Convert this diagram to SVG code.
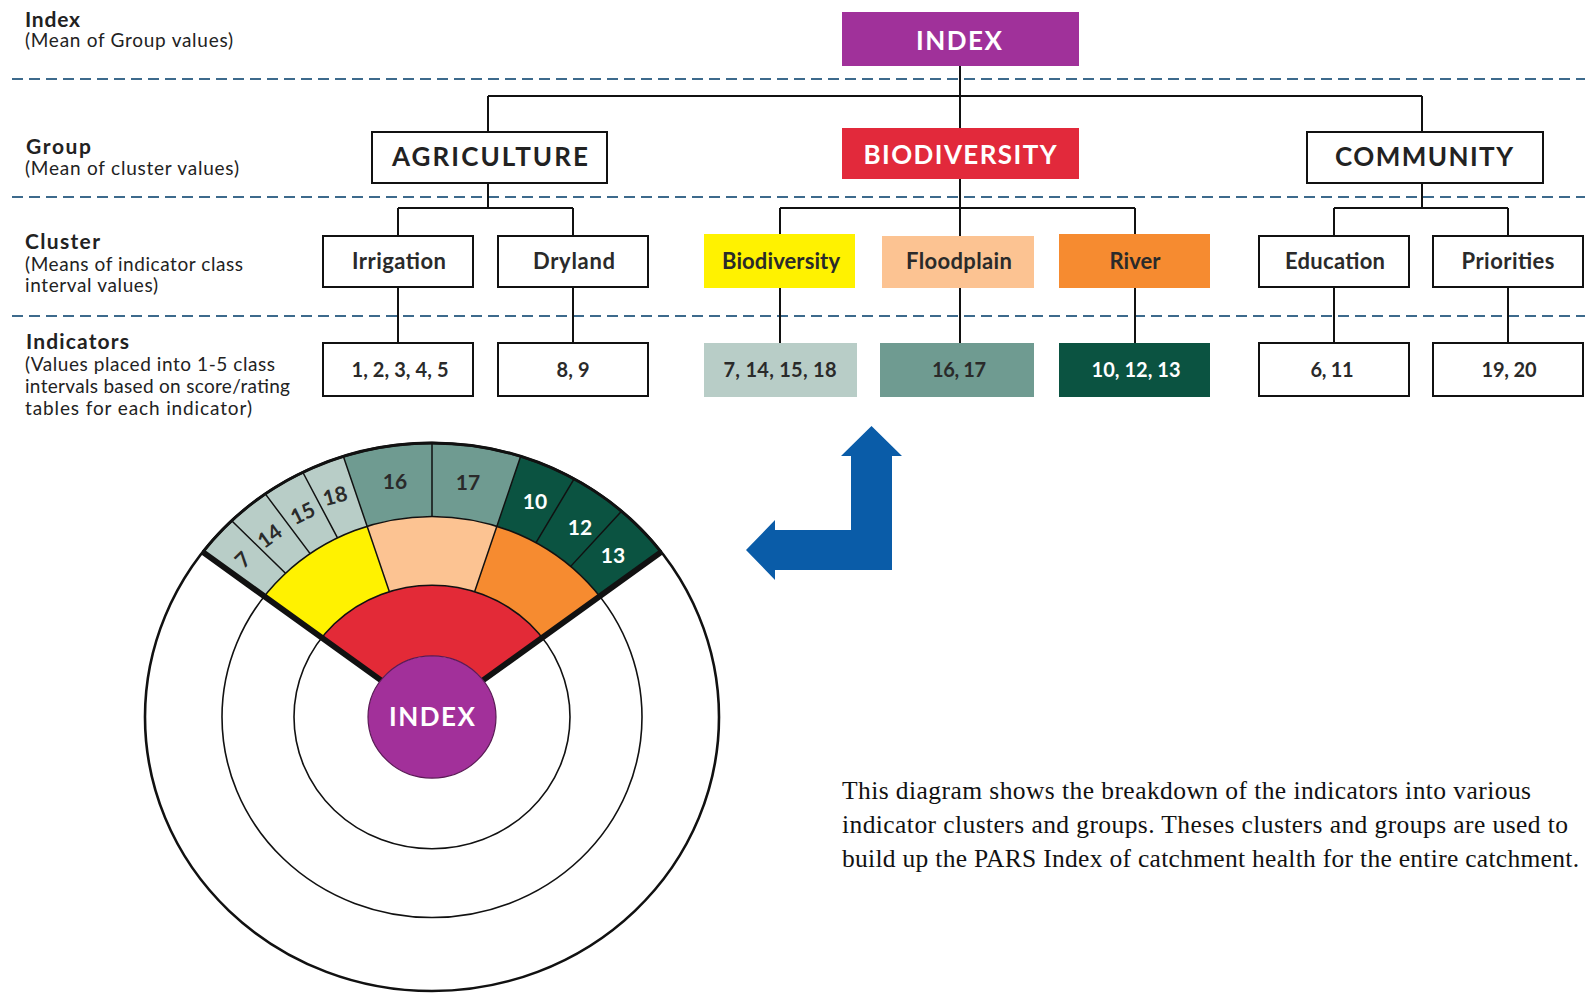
<svg xmlns="http://www.w3.org/2000/svg" width="1585" height="994" viewBox="0 0 1585 994">
<style>
.dash{stroke:#3d6a8c;stroke-width:2;stroke-dasharray:11 6;fill:none}
.conn{stroke:#111;stroke-width:2;fill:none}
.box{fill:#fff;stroke:#111;stroke-width:2}
.grp{font-family:Lato,"Open Sans",sans-serif;font-weight:700;font-size:26px;fill:#222;text-anchor:middle}
.cl{font-family:Lato,"Open Sans",sans-serif;font-weight:700;font-size:22px;fill:#2a2a2a;text-anchor:middle}
.num{font-family:Lato,"Open Sans",sans-serif;font-weight:700;font-size:20px;fill:#2a2a2a;text-anchor:middle}
.hd{font-family:Lato,"Open Sans",sans-serif;font-weight:700;font-size:21px;fill:#222}
.sub{font-family:Lato,"Open Sans",sans-serif;font-size:19px;fill:#222}
.ring{fill:none;stroke:#111;stroke-width:1.6}
.div{stroke:#111;stroke-width:1.5;fill:none}
.edge{stroke:#111;stroke-width:6;fill:none}
.fl{font-family:Lato,"Open Sans",sans-serif;font-weight:700;font-size:21px;fill:#2a2a2a;text-anchor:middle}
.body{font-family:"Liberation Serif",serif;font-size:25.5px;fill:#111}
.wh{fill:#fff}
</style>
<rect width="1585" height="994" fill="#fff"/>

<g id="level-lines">
<line class="dash" x1="12" y1="79" x2="1585" y2="79"/>
<line class="dash" x1="12" y1="197" x2="1585" y2="197"/>
<line class="dash" x1="12" y1="316" x2="1585" y2="316"/>
</g>

<g id="level-labels">
<text class="hd" x="25" y="27" textLength="55">Index</text>
<text class="sub" x="25" y="47" textLength="208">(Mean of Group values)</text>
<text class="hd" x="26" y="154" textLength="65">Group</text>
<text class="sub" x="25" y="175" textLength="214">(Mean of cluster values)</text>
<text class="hd" x="25" y="249" textLength="75">Cluster</text>
<text class="sub" x="25" y="271" textLength="218">(Means of indicator class</text>
<text class="sub" x="25" y="292" textLength="133">interval values)</text>
<text class="hd" x="26" y="349" textLength="103">Indicators</text>
<text class="sub" x="25" y="371" textLength="250">(Values placed into 1-5 class</text>
<text class="sub" x="25" y="393" textLength="265">intervals based on score/rating</text>
<text class="sub" x="25" y="415" textLength="227">tables for each indicator)</text>
</g>

<g id="connectors">
<line class="conn" x1="960" y1="66" x2="960" y2="128"/>
<line class="conn" x1="488" y1="96" x2="1422" y2="96"/>
<line class="conn" x1="488" y1="96" x2="488" y2="132"/>
<line class="conn" x1="1422" y1="96" x2="1422" y2="132"/>
<line class="conn" x1="488" y1="183" x2="488" y2="208"/>
<line class="conn" x1="398" y1="208" x2="573" y2="208"/>
<line class="conn" x1="398" y1="208" x2="398" y2="236"/>
<line class="conn" x1="573" y1="208" x2="573" y2="236"/>
<line class="conn" x1="960" y1="179" x2="960" y2="236"/>
<line class="conn" x1="780" y1="208" x2="1135" y2="208"/>
<line class="conn" x1="780" y1="208" x2="780" y2="234"/>
<line class="conn" x1="1135" y1="208" x2="1135" y2="234"/>
<line class="conn" x1="1422" y1="183" x2="1422" y2="208"/>
<line class="conn" x1="1334" y1="208" x2="1508" y2="208"/>
<line class="conn" x1="1334" y1="208" x2="1334" y2="236"/>
<line class="conn" x1="1508" y1="208" x2="1508" y2="236"/>
<line class="conn" x1="398" y1="287" x2="398" y2="343"/>
<line class="conn" x1="573" y1="287" x2="573" y2="343"/>
<line class="conn" x1="780" y1="288" x2="780" y2="343"/>
<line class="conn" x1="960" y1="288" x2="960" y2="343"/>
<line class="conn" x1="1135" y1="288" x2="1135" y2="343"/>
<line class="conn" x1="1334" y1="287" x2="1334" y2="343"/>
<line class="conn" x1="1508" y1="287" x2="1508" y2="343"/>
</g>

<g id="node-index">
<rect x="842" y="12" width="237" height="54" fill="#a0319a"/>
<text class="grp wh" x="959" y="50" textLength="86">INDEX</text>
</g>
<g id="node-agriculture">
<rect class="box" x="372" y="132" width="235" height="51"/>
<text class="grp" x="490" y="166" textLength="196">AGRICULTURE</text>
</g>
<g id="node-biodiversity-group">
<rect x="842" y="128" width="237" height="51" fill="#e2293b"/>
<text class="grp wh" x="960" y="164" textLength="193">BIODIVERSITY</text>
</g>
<g id="node-community">
<rect class="box" x="1307" y="132" width="236" height="51"/>
<text class="grp" x="1424" y="166" textLength="178">COMMUNITY</text>
</g>

<g id="node-irrigation">
<rect class="box" x="323" y="236" width="150" height="51"/>
<text class="cl" x="399" y="269" textLength="94">Irrigation</text>
</g>
<g id="node-dryland">
<rect class="box" x="498" y="236" width="150" height="51"/>
<text class="cl" x="574" y="269" textLength="82">Dryland</text>
</g>
<g id="node-biodiversity">
<rect x="704" y="234" width="151" height="54" fill="#fff200"/>
<text class="cl" x="781" y="269" textLength="118">Biodiversity</text>
</g>
<g id="node-floodplain">
<rect x="882" y="236" width="152" height="52" fill="#fcc392"/>
<text class="cl" x="959" y="269" textLength="106">Floodplain</text>
</g>
<g id="node-river">
<rect x="1059" y="234" width="151" height="54" fill="#f68b30"/>
<text class="cl" x="1135" y="269" textLength="51">River</text>
</g>
<g id="node-education">
<rect class="box" x="1259" y="236" width="150" height="51"/>
<text class="cl" x="1335" y="269" textLength="100">Education</text>
</g>
<g id="node-priorities">
<rect class="box" x="1433" y="236" width="150" height="51"/>
<text class="cl" x="1508" y="269" textLength="93">Priorities</text>
</g>

<g id="node-ind-1-5">
<rect class="box" x="323" y="343" width="150" height="53"/>
<text class="num" x="400" y="377" textLength="97">1, 2, 3, 4, 5</text>
</g>
<g id="node-ind-8-9">
<rect class="box" x="498" y="343" width="150" height="53"/>
<text class="num" x="573" y="377" textLength="33">8, 9</text>
</g>
<g id="node-ind-7-18">
<rect x="704" y="343" width="153" height="54" fill="#b8cdc7"/>
<text class="num" x="780" y="377" textLength="113">7, 14, 15, 18</text>
</g>
<g id="node-ind-16-17">
<rect x="880" y="343" width="154" height="54" fill="#6f9b91"/>
<text class="num" x="959" y="377" textLength="54">16, 17</text>
</g>
<g id="node-ind-10-13">
<rect x="1059" y="343" width="151" height="54" fill="#0b5341"/>
<text class="num wh" x="1136" y="377" textLength="89">10, 12, 13</text>
</g>
<g id="node-ind-6-11">
<rect class="box" x="1259" y="343" width="150" height="53"/>
<text class="num" x="1332" y="377" textLength="43">6, 11</text>
</g>
<g id="node-ind-19-20">
<rect class="box" x="1433" y="343" width="150" height="53"/>
<text class="num" x="1509" y="377" textLength="55">19, 20</text>
</g>

<g id="fan">
<g transform="translate(432,717) scale(1,0.955)">
<path fill="#b8cdc7" d="M -167.7,-126.4 L -229.2,-172.7 A 287 287 0 0 1 -88.7,-273 L -64.9,-199.7 A 210 210 0 0 0 -167.7,-126.4 Z"/>
<path fill="#6f9b91" d="M -64.9,-199.7 L -88.7,-273 A 287 287 0 0 1 88.7,-273 L 64.9,-199.7 A 210 210 0 0 0 -64.9,-199.7 Z"/>
<path fill="#0b5341" d="M 64.9,-199.7 L 88.7,-273 A 287 287 0 0 1 229.2,-172.7 L 167.7,-126.4 A 210 210 0 0 0 64.9,-199.7 Z"/>
<path fill="#fff200" d="M -110.2,-83 L -167.7,-126.4 A 210 210 0 0 1 -64.9,-199.7 L -42.6,-131.2 A 138 138 0 0 0 -110.2,-83 Z"/>
<path fill="#fcc392" d="M -42.6,-131.2 L -64.9,-199.7 A 210 210 0 0 1 64.9,-199.7 L 42.6,-131.2 A 138 138 0 0 0 -42.6,-131.2 Z"/>
<path fill="#f68b30" d="M 42.6,-131.2 L 64.9,-199.7 A 210 210 0 0 1 167.7,-126.4 L 110.2,-83 A 138 138 0 0 0 42.6,-131.2 Z"/>
<path fill="#e32a37" d="M -51.1,-38.5 L -110.2,-83 A 138 138 0 0 1 110.2,-83 L 51.1,-38.5 A 64 64 0 0 0 -51.1,-38.5 Z"/>
<circle class="ring" cx="0" cy="0" r="138"/>
<circle class="ring" cx="0" cy="0" r="210"/>
<circle class="ring" cx="0" cy="0" r="287" style="stroke-width:2.6"/>
<path class="div" d="M -146.5,-150.4 L -200.3,-205.6 M -121.9,-171 L -166.7,-233.6 M -94.5,-187.5 L -129.2,-256.3 M -42.6,-131.2 L -88.7,-273 M 0,-210 L 0,-287 M 42.6,-131.2 L 88.7,-273 M 104,-182.5 L 142.1,-249.4 M 138.7,-157.7 L 189.5,-215.5"/>
<path class="div" d="M -229.2,-172.7 A 287 287 0 0 1 229.2,-172.7" style="stroke-width:3"/>
<path class="edge" d="M -51.1,-38.5 L -229.2,-172.7 M 51.1,-38.5 L 229.2,-172.7"/>
<circle cx="0" cy="0" r="64" fill="#a2309a" stroke="#5a1a55" stroke-width="1.2"/>
</g>
<text class="grp wh" x="432" y="726" textLength="86">INDEX</text>
<text class="fl" transform="translate(248,565) rotate(-45)">7</text>
<text class="fl" transform="translate(274,542) rotate(-36)">14</text>
<text class="fl" transform="translate(306,520) rotate(-26)">15</text>
<text class="fl" transform="translate(337,503) rotate(-15)">18</text>
<text class="fl" x="395" y="489">16</text>
<text class="fl" x="468" y="490">17</text>
<text class="fl wh" x="535" y="509">10</text>
<text class="fl wh" x="580" y="535">12</text>
<text class="fl wh" x="613" y="563">13</text>
</g>

<g id="arrow">
<polygon fill="#0a5ca8" points="871.5,426 902,456 892,456 892,570 775,570 775,580 746,550 775,520 775,530 851,530 851,456 841,456"/>
</g>

<g id="caption">
<text class="body" x="842" y="799" textLength="689">This diagram shows the breakdown of the indicators into various</text>
<text class="body" x="842" y="833" textLength="726">indicator clusters and groups. Theses clusters and groups are used to</text>
<text class="body" x="842" y="867" textLength="737">build up the PARS Index of catchment health for the entire catchment.</text>
</g>
</svg>
